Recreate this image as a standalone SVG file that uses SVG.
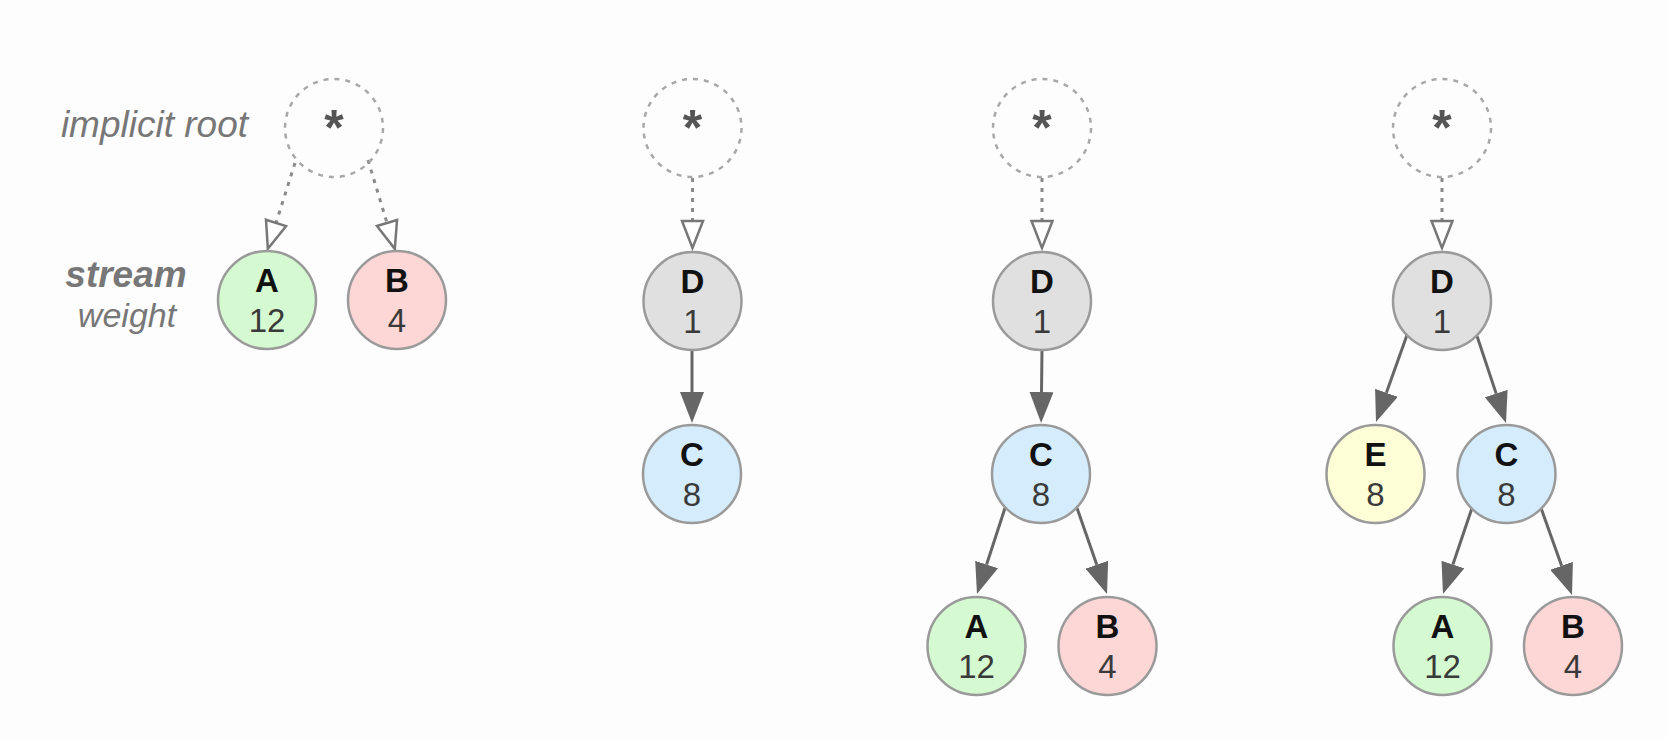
<svg xmlns="http://www.w3.org/2000/svg" width="1668" height="738" viewBox="0 0 1668 738">
  <defs>
    <style>
      .bg { fill: #fdfdfd; }
      .node { stroke: #9a9a9a; stroke-width: 2.5; }
      .root { fill: none; stroke: #a8a8a8; stroke-width: 2.5; stroke-dasharray: 5 6; }
      .star { font-family: "Liberation Sans", Arial, sans-serif; font-weight: bold; font-size: 50px; fill: #555; text-anchor: middle; }
      .lbl { font-family: "Liberation Sans", Arial, sans-serif; font-weight: bold; font-size: 33px; fill: #111; text-anchor: middle; }
      .num { font-family: "Liberation Sans", Arial, sans-serif; font-size: 33px; fill: #3a3a3a; text-anchor: middle; }
      .side { font-family: "Liberation Sans", Arial, sans-serif; font-style: italic; fill: #777; }
      .edge { fill: none; stroke: #666; stroke-width: 3; marker-end: url(#arr); }
      .dot { fill: none; stroke: #8a8a8a; stroke-width: 3; stroke-dasharray: 4 6; marker-end: url(#hollow); }
      .cA { fill: #d5f9d0; }
      .cB { fill: #fdd6d6; }
      .cC { fill: #d4ecfb; }
      .cD { fill: #e0e0e0; }
      .cE { fill: #fdfdd6; }
    </style>
    <marker id="arr" viewBox="0 -12 31 24" refX="0" refY="0" markerWidth="31" markerHeight="24" markerUnits="userSpaceOnUse" orient="auto">
      <path d="M0,-12 L31,0 L0,12 Z" fill="#666"/>
    </marker>
    <marker id="hollow" viewBox="-2 -13 32 26" refX="0" refY="0" markerWidth="32" markerHeight="26" markerUnits="userSpaceOnUse" orient="auto">
      <path d="M0,-10.5 L27,0 L0,10.5 Z" fill="#fff" stroke="#777" stroke-width="2.5" stroke-linejoin="miter"/>
    </marker>
  </defs>

  <rect class="bg" x="0" y="0" width="1668" height="738"/>

  <g id="legend">
    <text class="side" x="248" y="137" font-size="37" text-anchor="end">implicit root</text>
    <text class="side" x="126" y="287" font-size="37" font-weight="bold" text-anchor="middle">stream</text>
    <text class="side" x="127" y="327" font-size="34" text-anchor="middle">weight</text>
  </g>

  <g id="connectors">
    <!-- panel 1 -->
    <path class="dot" d="M295,163 L276,223"/>
    <path class="dot" d="M368,160 L387,223"/>
    <!-- panel 2 -->
    <path class="dot" d="M692.5,178 L692.5,221"/>
    <path class="edge" d="M692,350 L692,392"/>
    <!-- panel 3 -->
    <path class="dot" d="M1042,178 L1042,221"/>
    <path class="edge" d="M1042,350 L1041.5,392"/>
    <path class="edge" d="M1005,508 L986.6,564.5"/>
    <path class="edge" d="M1077,508 L1096.8,564.7"/>
    <!-- panel 4 -->
    <path class="dot" d="M1442,178 L1442,221"/>
    <path class="edge" d="M1407,335 L1386.4,392.8"/>
    <path class="edge" d="M1477,336 L1496.2,393.6"/>
    <path class="edge" d="M1472,508 L1452.9,564.6"/>
    <path class="edge" d="M1541,508 L1561.6,565.8"/>
  </g>

  <!-- panel 1 -->
  <g id="p1-root">
    <circle class="root" cx="334" cy="128" r="49"/>
    <text class="star" x="334" y="145">*</text>
  </g>
  <g id="p1-A">
    <circle class="node cA" cx="267" cy="300" r="49"/>
    <text class="lbl" x="267" y="292">A</text>
    <text class="num" x="267" y="332">12</text>
  </g>
  <g id="p1-B">
    <circle class="node cB" cx="397" cy="300" r="49"/>
    <text class="lbl" x="397" y="292">B</text>
    <text class="num" x="397" y="332">4</text>
  </g>

  <!-- panel 2 -->
  <g id="p2-root">
    <circle class="root" cx="692.5" cy="128" r="49"/>
    <text class="star" x="692.5" y="145">*</text>
  </g>
  <g id="p2-D">
    <circle class="node cD" cx="692.5" cy="301" r="49"/>
    <text class="lbl" x="692.5" y="293">D</text>
    <text class="num" x="692.5" y="333">1</text>
  </g>
  <g id="p2-C">
    <circle class="node cC" cx="692" cy="474" r="49"/>
    <text class="lbl" x="692" y="466">C</text>
    <text class="num" x="692" y="506">8</text>
  </g>

  <!-- panel 3 -->
  <g id="p3-root">
    <circle class="root" cx="1042" cy="128" r="49"/>
    <text class="star" x="1042" y="145">*</text>
  </g>
  <g id="p3-D">
    <circle class="node cD" cx="1042" cy="301" r="49"/>
    <text class="lbl" x="1042" y="293">D</text>
    <text class="num" x="1042" y="333">1</text>
  </g>
  <g id="p3-C">
    <circle class="node cC" cx="1041" cy="474" r="49"/>
    <text class="lbl" x="1041" y="466">C</text>
    <text class="num" x="1041" y="506">8</text>
  </g>
  <g id="p3-A">
    <circle class="node cA" cx="976.5" cy="646" r="49"/>
    <text class="lbl" x="976.5" y="638">A</text>
    <text class="num" x="976.5" y="678">12</text>
  </g>
  <g id="p3-B">
    <circle class="node cB" cx="1107.5" cy="646" r="49"/>
    <text class="lbl" x="1107.5" y="638">B</text>
    <text class="num" x="1107.5" y="678">4</text>
  </g>

  <!-- panel 4 -->
  <g id="p4-root">
    <circle class="root" cx="1442" cy="128" r="49"/>
    <text class="star" x="1442" y="145">*</text>
  </g>
  <g id="p4-D">
    <circle class="node cD" cx="1442" cy="301" r="49"/>
    <text class="lbl" x="1442" y="293">D</text>
    <text class="num" x="1442" y="333">1</text>
  </g>
  <g id="p4-E">
    <circle class="node cE" cx="1375.5" cy="474" r="49"/>
    <text class="lbl" x="1375.5" y="466">E</text>
    <text class="num" x="1375.5" y="506">8</text>
  </g>
  <g id="p4-C">
    <circle class="node cC" cx="1506.5" cy="474" r="49"/>
    <text class="lbl" x="1506.5" y="466">C</text>
    <text class="num" x="1506.5" y="506">8</text>
  </g>
  <g id="p4-A">
    <circle class="node cA" cx="1442.5" cy="646" r="49"/>
    <text class="lbl" x="1442.5" y="638">A</text>
    <text class="num" x="1442.5" y="678">12</text>
  </g>
  <g id="p4-B">
    <circle class="node cB" cx="1573" cy="646" r="49"/>
    <text class="lbl" x="1573" y="638">B</text>
    <text class="num" x="1573" y="678">4</text>
  </g>
</svg>
